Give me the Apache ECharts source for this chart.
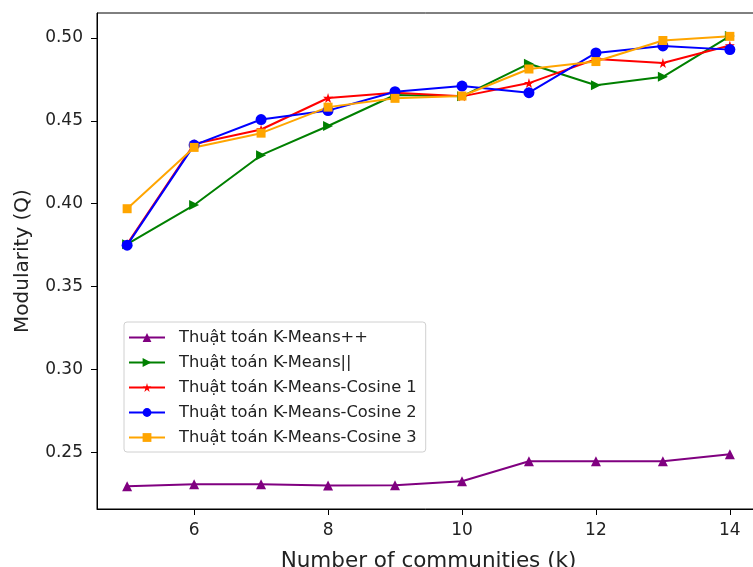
<!DOCTYPE html>
<html><head><meta charset="utf-8">
<script src="https://cdn.jsdelivr.net/npm/echarts@6/dist/echarts.min.js"></script>
<style>html,body{margin:0;padding:0;background:#fff;overflow:hidden}#c{width:753px;height:567px}</style>
</head><body><div id="c"></div>
<script>
const kValues = [5, 6, 7, 8, 9, 10, 11, 12, 13, 14];
const seriesNames = ['Thuật toán K-Means++', 'Thuật toán K-Means||', 'Thuật toán K-Means-Cosine 1', 'Thuật toán K-Means-Cosine 2', 'Thuật toán K-Means-Cosine 3'];
const kmeansPP =  [0.2295, 0.2307, 0.2307, 0.2300, 0.2302, 0.2325, 0.2446, 0.2446, 0.2446, 0.2488];
const kmeansPar = [0.3756, 0.3992, 0.4293, 0.4469, 0.4656, 0.4648, 0.4845, 0.4715, 0.4766, 0.5012];
const cosine1 =   [0.3756, 0.4360, 0.4448, 0.4638, 0.4670, 0.4648, 0.4728, 0.4873, 0.4849, 0.4955];
const cosine2 =   [0.3750, 0.4354, 0.4508, 0.4562, 0.4676, 0.4710, 0.4670, 0.4910, 0.4952, 0.4930];
const cosine3 =   [0.3970, 0.4340, 0.4426, 0.4583, 0.4636, 0.4650, 0.4813, 0.4858, 0.4985, 0.5010];
const xTicks = [6, 8, 10, 12, 14];
const yTicks = [0.25, 0.30, 0.35, 0.40, 0.45, 0.50];

const colors = ['purple', 'green', 'red', 'blue', 'orange'];
const starPath = 'path://M50,0 L61,35 L98,35 L68,57 L79,91 L50,70 L21,91 L32,57 L2,35 L39,35 Z';
const symbols = ['triangle', 'triangle', starPath, 'circle', 'rect'];
const rotations = [0, -90, 0, 0, 0];
const sizes = [10, 10, 10, 11, 9];
const allData = [kmeansPP, kmeansPar, cosine1, cosine2, cosine3];

const font = 'DejaVu Sans';
const chart = echarts.init(document.getElementById('c'));
chart.setOption({
  animation: false,
  backgroundColor: '#fff',
  grid: { left: 97, top: 13, width: 663, height: 496, containLabel: false, outerBoundsMode: 'none',
          show: true, borderColor: '#000', borderWidth: 1, backgroundColor: 'transparent' },
  xAxis: {
    type: 'value', min: 4.55, max: 14.45,
    name: 'Number of communities (k)', nameLocation: 'middle', nameGap: 41,
    nameTextStyle: { fontFamily: font, fontSize: 21.5, color: '#222' },
    axisLine: { show: true, onZero: false, lineStyle: { color: '#000', width: 1 } },
    axisTick: { show: true, length: 6, lineStyle: { color: '#000' }, customValues: xTicks },
    axisLabel: { fontFamily: font, fontSize: 17, color: '#222', margin: 13, customValues: xTicks },
    splitLine: { show: false }
  },
  yAxis: {
    type: 'value', min: 0.2158, max: 0.5151,
    name: 'Modularity (Q)', nameLocation: 'middle', nameGap: 64, nameRotate: 90,
    nameTextStyle: { fontFamily: font, fontSize: 20, color: '#222' },
    axisLine: { show: true, onZero: false, lineStyle: { color: '#000', width: 1 } },
    axisTick: { show: true, length: 6, lineStyle: { color: '#000' }, customValues: yTicks },
    axisLabel: { fontFamily: font, fontSize: 17, color: '#222', margin: 14, customValues: yTicks, formatter: v => v.toFixed(2) },
    splitLine: { show: false }
  },
  legend: {
    orient: 'vertical', left: 124, top: 322,
    backgroundColor: '#fff', borderColor: '#d0d0d0', borderWidth: 1, borderRadius: 3,
    padding: [7, 9, 6, 4],
    itemWidth: 36, itemHeight: 11, itemGap: 8,
    textStyle: { fontFamily: font, fontSize: 16.3, lineHeight: 17, color: '#222', padding: [0, 0, 0, 9] },
    data: seriesNames
  },
  series: allData.map((d, i) => ({
    name: seriesNames[i], type: 'line',
    data: kValues.map((k, j) => [k, d[j]]),
    color: colors[i],
    symbol: symbols[i], symbolRotate: rotations[i], symbolSize: sizes[i],
    lineStyle: { width: 2, color: colors[i] },
    itemStyle: { color: colors[i] },
    showSymbol: true, clip: false
  }))
});
</script></body></html>
